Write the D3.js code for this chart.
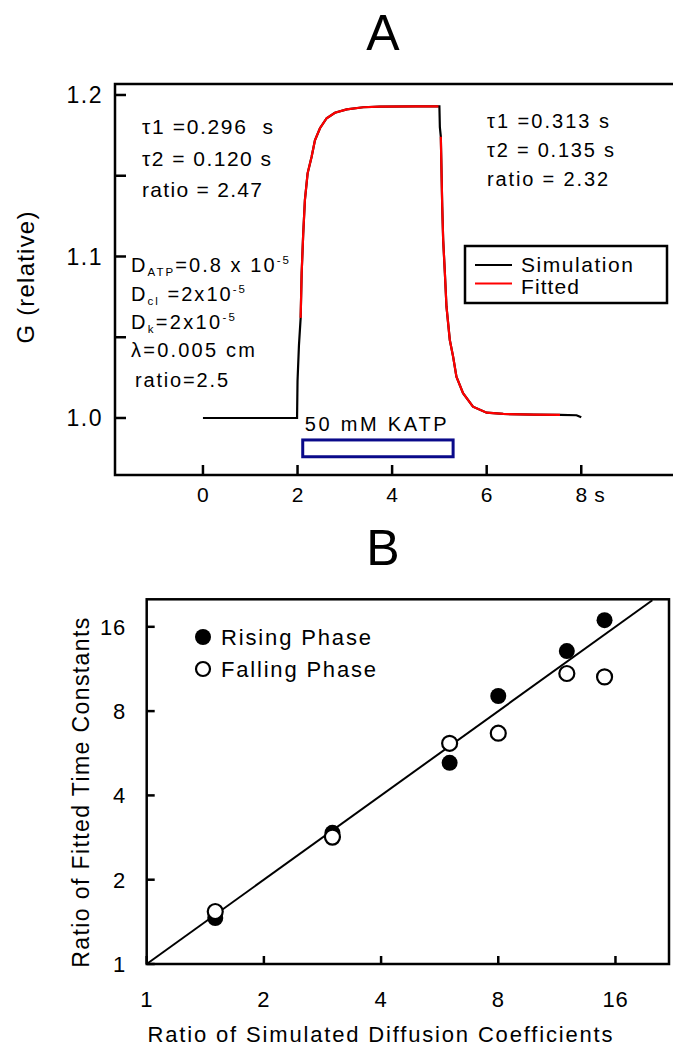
<!DOCTYPE html>
<html><head><meta charset="utf-8">
<script src="https://cdn.jsdelivr.net/npm/d3@7"></script>
<style>
body{margin:0;background:#fff}
svg{display:block}
text{font-family:"Liberation Sans",Arial,sans-serif;fill:#000}
</style>
</head><body><svg width="673" height="1049"></svg>
<script>
// ---- Panel A: simulated conductance (relative) vs time (s) ----
const simTime = [0, 1.99, 2.0, 2.03, 2.066, 2.087, 2.12, 2.156, 2.213, 2.298, 2.368, 2.474, 2.615, 2.79, 3.04, 3.39, 3.74, 4.5, 5.0,
                 5.01, 5.03, 5.06, 5.08, 5.116, 5.15, 5.22, 5.29, 5.36, 5.50, 5.71, 6.0, 6.35, 7.0, 7.55, 7.9, 8.0];
const simG    = [1.0, 1.0, 1.023, 1.045, 1.062, 1.0896, 1.114, 1.135, 1.1515, 1.1618, 1.172, 1.1794, 1.1856, 1.189, 1.1911, 1.1924, 1.1928, 1.193, 1.193,
                 1.180, 1.1742, 1.1308, 1.1102, 1.0896, 1.0689, 1.0483, 1.038, 1.0256, 1.0153, 1.007, 1.0033, 1.0025, 1.0021, 1.0019, 1.0017, 1.0004];
const fitRiseTime = [2.066, 2.087, 2.12, 2.156, 2.213, 2.298, 2.368, 2.474, 2.615, 2.79, 3.04, 3.39, 3.74, 4.5, 4.98];
const fitRiseG    = [1.062, 1.0896, 1.114, 1.135, 1.1515, 1.1618, 1.172, 1.1794, 1.1856, 1.189, 1.1911, 1.1924, 1.1928, 1.193, 1.193];
const fitFallTime = [5.03, 5.06, 5.08, 5.116, 5.15, 5.22, 5.29, 5.36, 5.50, 5.71, 6.0, 6.35, 7.0, 7.55];
const fitFallG    = [1.1742, 1.1308, 1.1102, 1.0896, 1.0689, 1.0483, 1.038, 1.0256, 1.0153, 1.007, 1.0033, 1.0025, 1.0021, 1.0019];
const timeTicks = [0, 2, 4, 6, 8];
const gTicks = [1.0, 1.05, 1.1, 1.15, 1.2];
const gTickLabels = [1.0, 1.1, 1.2];
const stimTime = [2.11, 5.29];      // 50 mM KATP application (s)
const stimBand = [0.976, 0.9864];   // vertical extent of the stimulus bar (G units)
const legendA = ["Simulation", "Fitted"];
const legendAColors = ["#000", "#ff0000"];

// ---- Panel B: ratio of fitted time constants vs ratio of diffusion coefficients ----
const diffRatio    = [1.5, 3, 6, 8, 12, 15];
const risingRatio  = [1.46, 2.94, 5.23, 9.06, 13.1, 16.9];
const fallingRatio = [1.54, 2.84, 6.14, 6.67, 10.9, 10.6];
const unityLine    = [1, 19.9];
const logTicks = [1, 2, 4, 8, 16];
const legendB = ["Rising Phase", "Falling Phase"];

const svg = d3.select("svg");

// stretch a text's letter spacing so it spans the given width
function spread(sel, width) {
  const n = sel.text().length;
  const len = sel.node().getComputedTextLength();
  if (n > 1) sel.attr("letter-spacing", (width - len) / (n - 1));
  return sel;
}

// ================= Panel A =================
const xA = d3.scaleLinear().domain([-1.86, 9.94]).range([115, 673]);
const yA = d3.scaleLinear().domain([0.9647, 1.2068]).range([475, 84]);

svg.append("text").attr("x", 383).attr("y", 50).attr("text-anchor", "middle")
  .attr("font-size", 50).text("A");

// frame (open on the right, runs to the page edge)
svg.append("path")
  .attr("d", `M673,${yA.range()[1]}H${xA.range()[0]}V${yA.range()[0]}H673`)
  .attr("fill", "none").attr("stroke", "#000").attr("stroke-width", 2.5);

// y ticks (inward)
svg.append("g").selectAll("line").data(gTicks).join("line")
  .attr("x1", xA.range()[0]).attr("x2", xA.range()[0] + 11)
  .attr("y1", d => yA(d)).attr("y2", d => yA(d))
  .attr("stroke", "#000").attr("stroke-width", 2.5);
svg.append("g").selectAll("text").data(gTickLabels).join("text")
  .attr("x", 103).attr("y", d => yA(d) + 8.5).attr("text-anchor", "end")
  .attr("font-size", 23).attr("letter-spacing", 1.5).text(d3.format(".1f"));

// x ticks (inward)
svg.append("g").selectAll("line").data(timeTicks).join("line")
  .attr("x1", d => xA(d)).attr("x2", d => xA(d))
  .attr("y1", yA.range()[0]).attr("y2", yA.range()[0] - 10)
  .attr("stroke", "#000").attr("stroke-width", 2.5);
svg.append("g").selectAll("text").data(timeTicks).join("text")
  .attr("x", d => xA(d)).attr("y", 502).attr("text-anchor", "middle")
  .attr("font-size", 21).text(d => d);
svg.append("text").attr("x", xA(8) + 13).attr("y", 502).attr("font-size", 21).text("s");

spread(svg.append("text").attr("transform", "translate(34,277) rotate(-90)")
  .attr("text-anchor", "middle").attr("font-size", 24).text("G (relative)"), 132);

// traces
const lineA = d3.line().x(d => xA(d[0])).y(d => yA(d[1]));
svg.append("path").datum(d3.zip(simTime, simG)).attr("d", lineA)
  .attr("fill", "none").attr("stroke", "#000").attr("stroke-width", 2.2);
[[fitRiseTime, fitRiseG], [fitFallTime, fitFallG]].forEach(([t, g]) => {
  svg.append("path").datum(d3.zip(t, g)).attr("d", lineA)
    .attr("fill", "none").attr("stroke", "#ff0000").attr("stroke-width", 2.2);
});

// stimulus bar
svg.append("rect")
  .attr("x", xA(stimTime[0])).attr("y", yA(stimBand[1]))
  .attr("width", xA(stimTime[1]) - xA(stimTime[0]))
  .attr("height", yA(stimBand[0]) - yA(stimBand[1]))
  .attr("fill", "none").attr("stroke", "#0a0a8a").attr("stroke-width", 3);
spread(svg.append("text").attr("x", xA(stimTime[0]) + 2).attr("y", 431)
  .attr("font-size", 20).text("50 mM KATP"), 142);

// fit results
function lines(x, y0, dy, size, rows, widths) {
  rows.forEach((r, i) => {
    spread(svg.append("text").attr("x", x).attr("y", y0 + i * dy).attr("font-size", size)
      .attr("xml:space", "preserve").text(r), widths[i]);
  });
}
lines(142, 134, 31.5, 21, ["\u03c41 =0.296  s", "\u03c42 = 0.120 s", "ratio = 2.47"], [131, 129, 120]);
lines(487, 128, 29, 20, ["\u03c41 =0.313 s", "\u03c42 = 0.135 s", "ratio = 2.32"], [122, 127, 121]);

// simulation parameters
function subSup(x, y, width, parts) {
  const t = svg.append("text").attr("x", x).attr("y", y).attr("font-size", 20)
    .attr("xml:space", "preserve");
  parts.forEach(([s, kind]) => {
    const sp = t.append("tspan").text(s);
    if (kind === "sub") sp.attr("font-size", 11.5).attr("baseline-shift", "-4");
    if (kind === "sup") sp.attr("font-size", 11.5).attr("baseline-shift", "8");
  });
  spread(t, width);
}
subSup(131, 272, 158, [["D"], ["ATP", "sub"], ["=0.8 x 10"], ["-5", "sup"]]);
subSup(131, 301, 114, [["D"], ["cl", "sub"], [" =2x10"], ["-5", "sup"]]);
subSup(131, 329, 104, [["D"], ["k", "sub"], ["=2x10"], ["-5", "sup"]]);
subSup(131, 357, 124, [["\u03bb=0.005 cm"]]);
subSup(135, 387, 93, [["ratio=2.5"]]);

// legend
const lgA = svg.append("g");
lgA.append("rect").attr("x", 465).attr("y", 246).attr("width", 202).attr("height", 57)
  .attr("fill", "#fff").attr("stroke", "#000").attr("stroke-width", 2.5);
const legendAWidths = [112, 58];
legendA.forEach((name, i) => {
  const y = 265 + i * 18.5;
  lgA.append("line").attr("x1", 475).attr("x2", 512).attr("y1", y).attr("y2", y)
    .attr("stroke", legendAColors[i]).attr("stroke-width", 2.2);
  spread(lgA.append("text").attr("x", 521).attr("y", 272 + i * 21.5).attr("font-size", 21).text(name), legendAWidths[i]);
});

// ================= Panel B =================
const xB = d3.scaleLog().base(2).domain([1, 21.96]).range([146.7, 669]);
const yB = d3.scaleLog().base(2).domain([1, 20.06]).range([964, 599.3]);

svg.append("text").attr("x", 383).attr("y", 565).attr("text-anchor", "middle")
  .attr("font-size", 50).text("B");

svg.append("rect").attr("x", xB.range()[0]).attr("y", yB.range()[1])
  .attr("width", xB.range()[1] - xB.range()[0]).attr("height", yB.range()[0] - yB.range()[1])
  .attr("fill", "none").attr("stroke", "#000").attr("stroke-width", 2.5);

svg.append("g").selectAll("line").data(logTicks).join("line")
  .attr("x1", xB.range()[0]).attr("x2", xB.range()[0] + 8)
  .attr("y1", d => yB(d)).attr("y2", d => yB(d))
  .attr("stroke", "#000").attr("stroke-width", 2.5);
svg.append("g").selectAll("text").data(logTicks).join("text")
  .attr("x", 126).attr("y", d => yB(d) + 8).attr("text-anchor", "end")
  .attr("font-size", 22).attr("letter-spacing", 0.8).text(d => d);

svg.append("g").selectAll("line").data(logTicks).join("line")
  .attr("x1", d => xB(d)).attr("x2", d => xB(d))
  .attr("y1", yB.range()[0]).attr("y2", yB.range()[0] - 8)
  .attr("stroke", "#000").attr("stroke-width", 2.5);
svg.append("g").selectAll("text").data(logTicks).join("text")
  .attr("x", d => xB(d)).attr("y", 1007).attr("text-anchor", "middle")
  .attr("font-size", 22).attr("letter-spacing", 0.8).text(d => d);

spread(svg.append("text").attr("x", 381).attr("y", 1042).attr("text-anchor", "middle")
  .attr("font-size", 22).text("Ratio of Simulated Diffusion Coefficients"), 465);
spread(svg.append("text").attr("transform", "translate(89,792) rotate(-90)")
  .attr("text-anchor", "middle").attr("font-size", 23).text("Ratio of Fitted Time Constants"), 350);

// unity line
svg.append("line")
  .attr("x1", xB(unityLine[0])).attr("y1", yB(unityLine[0]))
  .attr("x2", xB(unityLine[1])).attr("y2", yB(unityLine[1]))
  .attr("stroke", "#000").attr("stroke-width", 2);

// points
svg.append("g").selectAll("circle").data(d3.zip(diffRatio, risingRatio)).join("circle")
  .attr("cx", d => xB(d[0])).attr("cy", d => yB(d[1])).attr("r", 8)
  .attr("fill", "#000");
svg.append("g").selectAll("circle").data(d3.zip(diffRatio, fallingRatio)).join("circle")
  .attr("cx", d => xB(d[0])).attr("cy", d => yB(d[1])).attr("r", 7.5)
  .attr("fill", "#fff").attr("stroke", "#000").attr("stroke-width", 2.2);

// legend
const legendBWidths = [150, 155];
legendB.forEach((name, i) => {
  const y = 637 + i * 32;
  svg.append("circle").attr("cx", 203).attr("cy", y).attr("r", i === 0 ? 8 : 7)
    .attr("fill", i === 0 ? "#000" : "#fff").attr("stroke", "#000").attr("stroke-width", i === 0 ? 0 : 2.2);
  spread(svg.append("text").attr("x", 221).attr("y", y + 8).attr("font-size", 22).text(name), legendBWidths[i]);
});
</script>
</body></html>
